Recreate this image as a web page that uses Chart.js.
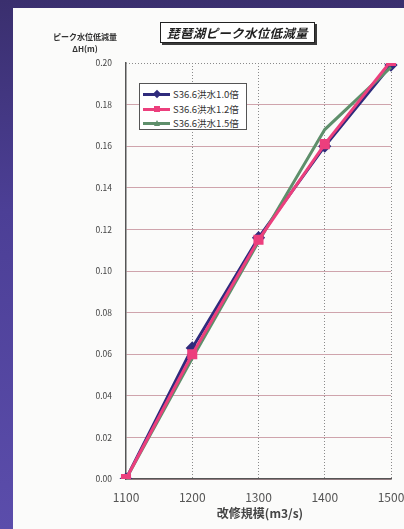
<!DOCTYPE html>
<html lang="ja">
<head>
<meta charset="utf-8">
<script src="https://cdn.jsdelivr.net/npm/chart.js@4/dist/chart.umd.min.js"></script>
<style>
  html, body { margin: 0; padding: 0; }
  body {
    width: 404px; height: 529px; position: relative; overflow: hidden;
    background: linear-gradient(180deg, #3a2f6e 0%, #4c3f96 40%, #5b4dab 100%);
    font-family: "Noto Sans CJK JP", "Noto Sans", sans-serif;
  }
  #panel {
    position: absolute; left: 13px; top: 8px; right: 0; bottom: 0;
    background: #fbfbfa;
  }
  #chart { position: absolute; left: 0; top: 0; }
  #title {
    position: absolute; left: 160px; top: 22px; width: 153px; height: 19px;
    border: 1px solid #222; background: #fff;
    box-shadow: 2px 2px 0 #3a3a3a;
    font-size: 12.5px; font-weight: bold; font-style: italic; color: #222;
    line-height: 19px; text-align: center; letter-spacing: 0.3px;
  }
  #ytitle {
    position: absolute; left: 35px; top: 31px; width: 100px;
    font-size: 8px; font-weight: bold; color: #333; text-align: center; line-height: 12px;
  }
  #xtitle {
    position: absolute; left: 200px; top: 504px; width: 120px;
    font-size: 12px; font-weight: bold; color: #444; text-align: center;
  }
  #legend {
    position: absolute; left: 139px; top: 83px; width: 108px; height: 47px;
    border: 1px solid #555; background: #fff; box-sizing: border-box;
    padding-top: 3px;
  }
  .row { height: 14.5px; position: relative; font-size: 9.5px; color: #333; }
  .sym { position: absolute; left: 3px; top: 6px; width: 27px; height: 3px; }
  .mk { position: absolute; left: 11px; top: -2px; width: 6px; height: 6px; }
  .txt { position: absolute; left: 33px; top: 0; line-height: 14px; white-space: nowrap; }
</style>
</head>
<body>
<div id="panel"></div>
<canvas id="chart" width="404" height="529"></canvas>
<div id="title">琵琶湖ピーク水位低減量</div>
<div id="ytitle">ピーク水位低減量<br>ΔH(m)</div>
<div id="xtitle">改修規模(m3/s)</div>
<div id="legend"></div>
<script>
// 改修規模 (m3/s)
const categories = ['1100', '1200', '1300', '1400', '1500'];
// ピーク水位低減量 ΔH (m)
const flood10 = [0.000, 0.063, 0.116, 0.160, 0.199];
const flood12 = [0.000, 0.060, 0.115, 0.161, 0.201];
const flood15 = [0.000, 0.058, 0.114, 0.168, 0.198];
const seriesNames = ['S36.6洪水1.0倍', 'S36.6洪水1.2倍', 'S36.6洪水1.5倍'];
const yTicks = [0, 0.02, 0.04, 0.06, 0.08, 0.10, 0.12, 0.14, 0.16, 0.18, 0.20];

const NAVY = '#2f2b7c', PINK = '#ec3f7d', GREEN = '#5e8f6b';

const datasets = [
  { label: seriesNames[0], data: flood10, borderColor: NAVY, backgroundColor: NAVY,
    pointStyle: 'rectRot', pointRadius: 4.5, order: 2 },
  { label: seriesNames[1], data: flood12, borderColor: PINK, backgroundColor: PINK,
    pointStyle: 'rect', pointRadius: 5, order: 0 },
  { label: seriesNames[2], data: flood15, borderColor: GREEN, backgroundColor: GREEN,
    pointStyle: 'triangle', pointRadius: 0, order: 1 }
].map(d => Object.assign({ borderWidth: 3, tension: 0, fill: false }, d));

// dotted frame on top of the plot area
const frame = {
  id: 'frame',
  beforeDatasetsDraw(chart) {
    const { ctx, chartArea: a } = chart;
    ctx.save();
    ctx.strokeStyle = '#8a8a8a';
    ctx.lineWidth = 1;
    ctx.setLineDash([1, 2]);
    ctx.beginPath();
    ctx.moveTo(a.left, a.top + 0.5);
    ctx.lineTo(a.right, a.top + 0.5);
    ctx.stroke();
    ctx.restore();
  }
};

new Chart(document.getElementById('chart'), {
  type: 'line',
  data: { labels: categories, datasets },
  options: {
    responsive: false,
    animation: false,
    layout: { padding: { left: 0, top: 63, right: 0, bottom: 0 } },
    plugins: { legend: { display: false }, tooltip: { enabled: false } },
    scales: {
      x: {
        offset: false,
        afterFit(s) { s.height = 50; s.paddingRight = 13; },
        grid: {
          color: c => c.index === 0 ? 'rgba(0,0,0,0)' : '#8a8a8a',
          lineWidth: 1, drawTicks: false
        },
        border: { display: true, color: '#555', width: 1.5, dash: [1, 2] },
        ticks: { padding: 11, color: '#555', font: { size: 12, family: '"Noto Sans CJK JP", sans-serif' } }
      },
      y: {
        min: 0, max: 0.2,
        afterFit(s) { s.width = 126; },
        afterBuildTicks(s) { s.ticks = yTicks.map(v => ({ value: v })); },
        grid: {
          color: c => (c.tick && c.tick.value >= 0.199) ? 'rgba(0,0,0,0)' : '#cfa4ac',
          lineWidth: 1, drawTicks: false
        },
        border: { display: true, color: '#555', width: 1.5 },
        ticks: {
          padding: 14, color: '#444',
          font: { size: 8.5, family: '"Noto Sans CJK JP", sans-serif' },
          callback: v => Number(v).toFixed(2)
        }
      }
    }
  },
  plugins: [frame]
});

// legend built from the dataset styles
const lg = document.getElementById('legend');
datasets.forEach(d => {
  const row = document.createElement('div');
  row.className = 'row';
  const sym = document.createElement('div');
  sym.className = 'sym';
  sym.style.background = d.borderColor;
  const mk = document.createElement('div');
  mk.className = 'mk';
  if (d.pointStyle === 'rectRot') { mk.style.background = d.borderColor; mk.style.transform = 'rotate(45deg)'; }
  else if (d.pointStyle === 'rect') { mk.style.background = d.borderColor; }
  else {
    mk.style.width = '0'; mk.style.height = '0';
    mk.style.borderLeft = '3.5px solid transparent';
    mk.style.borderRight = '3.5px solid transparent';
    mk.style.borderBottom = '6px solid ' + d.borderColor;
    mk.style.top = '-2px';
  }
  sym.appendChild(mk);
  const txt = document.createElement('div');
  txt.className = 'txt';
  txt.textContent = d.label;
  row.appendChild(sym);
  row.appendChild(txt);
  lg.appendChild(row);
});
</script>
</body>
</html>
